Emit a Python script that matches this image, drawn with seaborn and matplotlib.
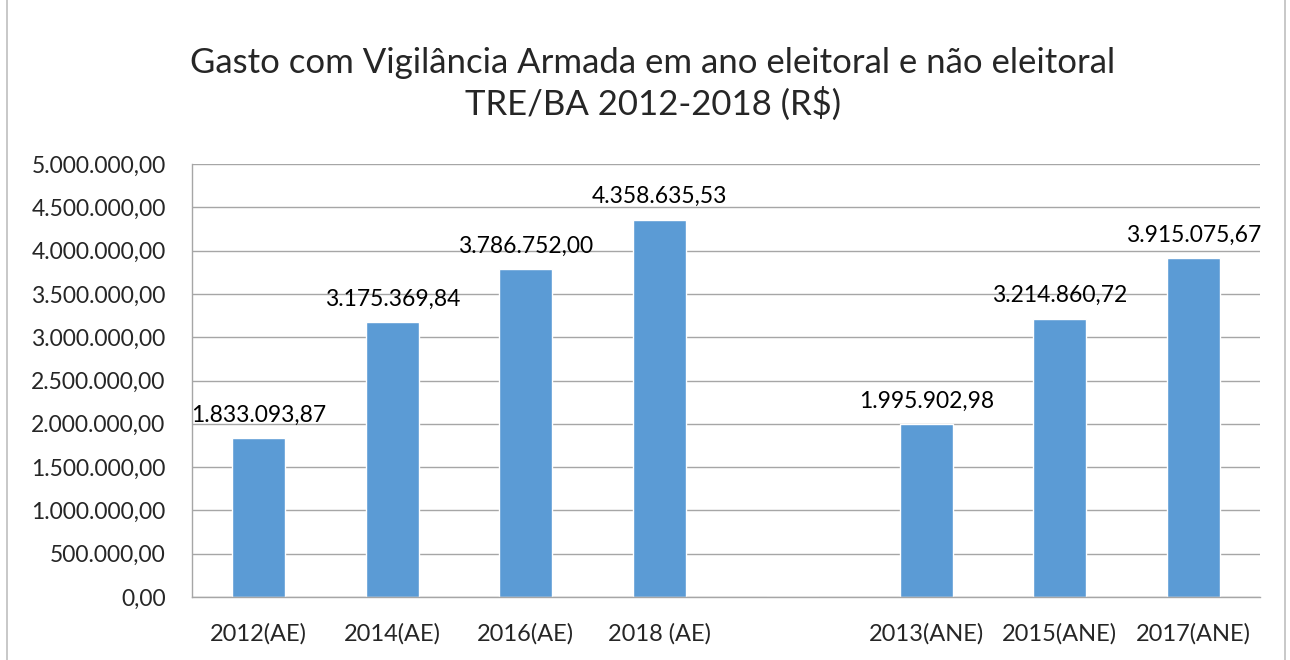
import numpy as np
import pandas as pd
import matplotlib
matplotlib.use("Agg")
import matplotlib.pyplot as plt
import seaborn as sns
from matplotlib.patches import Rectangle

categories = ["2012(AE)", "2014(AE)", "2016(AE)", "2018 (AE)", "", "2013(ANE)", "2015(ANE)", "2017(ANE)"]
values = [1833093.87, 3175369.84, 3786752.00, 4358635.53, np.nan, 1995902.98, 3214860.72, 3915075.67]
yticks = [0, 500000, 1000000, 1500000, 2000000, 2500000, 3000000, 3500000, 4000000, 4500000, 5000000]
title = "Gasto com Vigilância Armada em ano eleitoral e não eleitoral\nTRE/BA 2012-2018 (R$)"

def fmt_br(v):
    s = f"{v:,.2f}"
    return s.replace(",", "X").replace(".", ",").replace("X", ".")

sns.set_theme(style="white")
plt.rcParams['font.family'] = ['Lato', 'DejaVu Sans']

df = pd.DataFrame({"cat": categories, "val": values})
df["val"] = df["val"].fillna(0.0)

fig = plt.figure(figsize=(12.9, 6.6), dpi=100)
fig.patch.set_facecolor("white")
fig.patches.append(Rectangle((7/1290, -0.1), (1285-7)/1290, 1.2, transform=fig.transFigure,
                             fill=False, edgecolor="#BFBFBF", linewidth=1.2))
ax = fig.add_axes([192/1290, 1-597/660, (1260-192)/1290, (597-164)/660])

sns.barplot(data=df, x="cat", y="val", order=categories, color="#5B9BD5",
            saturation=1, width=0.4, ax=ax, errorbar=None)

labels = ["" if np.isnan(v) else fmt_br(v) for v in values]
ax.bar_label(ax.containers[0], labels=labels, padding=9, fontsize=16.5, color="#000000")

ax.set_ylim(0, 5000000)
ax.set_xlim(-0.5, len(categories) - 0.5)
ax.set_yticks(yticks)
ax.set_yticklabels([fmt_br(v) for v in yticks], fontsize=16.5)
ax.yaxis.grid(True, color="#A6A6A6", linewidth=1)
ax.set_axisbelow(True)
ax.set_xlabel("")
ax.set_ylabel("")

ax.set_xticks(range(len(categories)))
ax.set_xticklabels(categories, fontsize=17, family=['Liberation Sans Narrow', 'Lato', 'DejaVu Sans'])
ax.set_xticks(np.arange(-0.5, len(categories), 1), minor=True)
ax.tick_params(axis="x", which="major", length=0, pad=19)
ax.tick_params(axis="x", which="minor", length=8, width=1, color="#A6A6A6", direction="out")
ax.tick_params(axis="y", which="major", length=9, width=1, color="#A6A6A6", direction="out", pad=10)

for s in ["top", "right"]:
    ax.spines[s].set_visible(False)
for s in ["left", "bottom"]:
    ax.spines[s].set_color("#A6A6A6")
    ax.spines[s].set_linewidth(1)

fig.text(653/1290, 1-84/660, title, ha="center", va="center", fontsize=25, linespacing=1.25)

fig.savefig("out.png", dpi=100)
